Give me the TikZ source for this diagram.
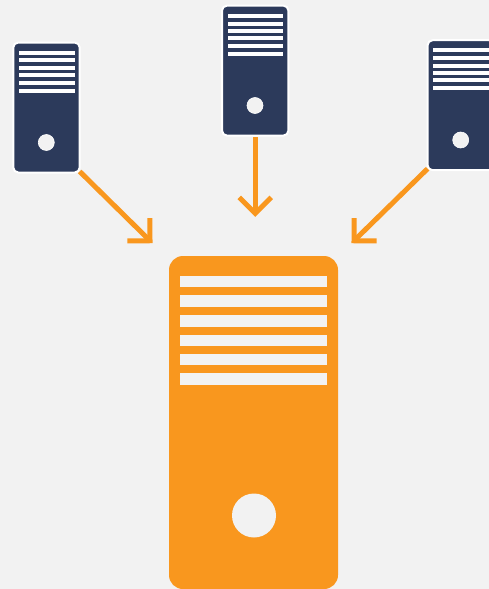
\documentclass[tikz,border=0pt]{standalone}
\usetikzlibrary{arrows.meta}
\definecolor{bgc}{HTML}{F2F2F2}
\definecolor{navyc}{HTML}{2C3A5B}
\definecolor{orangec}{HTML}{F9971E}
\pgfarrowsdeclare{flowhead}{flowhead}
{\pgfarrowsleftextend{-16pt}\pgfarrowsrightextend{3.5pt}}
{\pgfsetdash{}{0pt}\pgfsetbuttcap\pgfsetmiterjoin
 \pgfpathmoveto{\pgfpoint{-16pt}{16pt}}
 \pgfpathlineto{\pgfpoint{0pt}{0pt}}
 \pgfpathlineto{\pgfpoint{-16pt}{-16pt}}
 \pgfusepathqstroke}
\tikzset{
  tower/.style={rectangle,rounded corners=5pt,fill=navyc,draw=white,line width=2pt,inner sep=0pt,outer sep=0pt},
  bigtower/.style={rectangle,rounded corners=14pt,fill=orangec,inner sep=0pt,outer sep=0pt,minimum width=169pt,minimum height=333pt},
  smallslot/.style={fill=white},
  bigslot/.style={fill=bgc},
  smalldot/.style={circle,fill=bgc,draw=white,line width=0.6pt,inner sep=0pt,minimum size=16pt},
  bigdot/.style={circle,fill=bgc,inner sep=0pt,minimum size=44pt},
  flow/.style={draw=orangec,line width=5pt,-flowhead}
}
\begin{document}
\begin{tikzpicture}[x=1pt,y=-1pt]
\useasboundingbox (0,0) rectangle (489,589);
\clip (0,0) rectangle (489,589);
\fill[bgc] (0,0) rectangle (489,589);
% main tower
\node[bigtower] (main) at (253.5,422.5) {};
\foreach \a/\b in {275.7/287,295/307,315/326.5,334.5/346,353.5/365,373/384.5}
  \fill[bigslot] (180,\a) rectangle (327,\b);
\node[bigdot] (maindot) at (254,515.5) {};
% left tower
\node[tower,minimum width=66.4pt,minimum height=130pt] (left) at (46.5,107.5) {};
\foreach \a in {51,58.3,66,73,80.5,88.5}
  \fill[smallslot] (19,\a) rectangle (74.7,\a+4);
\node[smalldot] (leftdot) at (46.3,142.5) {};
% middle tower
\node[tower,minimum width=66.4pt,minimum height=130pt] (mid) at (255.2,70.6) {};
\foreach \a in {14,21.7,29,36,43.5,51.7}
  \fill[smallslot] (227.7,\a) rectangle (283.3,\a+4);
\node[smalldot] (middot) at (255,105.5) {};
% right tower
\node[tower,minimum width=66.4pt,minimum height=130pt] (right) at (460.8,105.2) {};
\foreach \a in {48.3,56,63.5,70.5,78,86}
  \fill[smallslot] (433,\a) rectangle (489,\a+4);
\node[smalldot] (rightdot) at (460.7,140) {};
% arrow ends
\coordinate (tipL) at (152.5,243.2);
\coordinate (tipM) at (255.2,216.9);
\coordinate (tipR) at (351.5,243.2);
\draw[flow] (left.south east) ++(0,-1) -- (tipL);
\draw[flow] (mid.south) ++(0,1.5) -- (tipM);
\draw[flow] (right.south west) ++(0,-1.5) -- (tipR);
\end{tikzpicture}
\end{document}
